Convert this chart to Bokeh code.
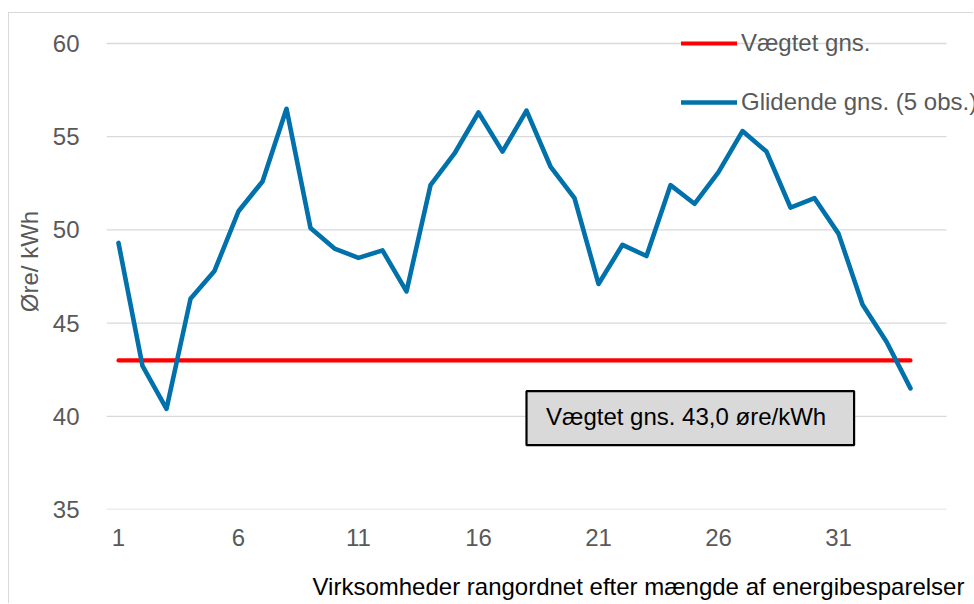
from bokeh.plotting import figure
from bokeh.models import (Range1d, FixedTicker, Legend, LegendItem, BoxAnnotation,
                          Label, Title, ColumnDataSource)
from bokeh.embed import file_html
from bokeh.resources import INLINE

# ---- data ----
companies = list(range(1, 35))
moving_avg = [49.3, 42.7, 40.4, 46.3, 47.8, 51.0, 52.6, 56.5, 50.1, 49.0,
              48.5, 48.9, 46.7, 52.4, 54.1, 56.3, 54.2, 56.4, 53.4, 51.7,
              47.1, 49.2, 48.6, 52.4, 51.4, 53.1, 55.3, 54.2, 51.2, 51.7,
              49.8, 46.0, 44.0, 41.5]
weighted_avg = 43.0
x_ticks = [1, 6, 11, 16, 21, 26, 31]
y_ticks = [35, 40, 45, 50, 55, 60]
legend_labels = ["Vægtet gns.", "Glidende gns. (5 obs.)"]
note_text = "Vægtet gns. 43,0 øre/kWh"
x_title = "Virksomheder rangordnet efter mængde af energibesparelser"
y_title = "Øre/ kWh"

FONT = "Liberation Sans"
GREY = "#595959"
BLUE = "#0171AB"
RED = "#FF0000"

# category axis spans 0.5..35.5 (35 slots); plot area extended right/top for legend
X0, X1 = 0.5, 35.5
src_avg = ColumnDataSource(dict(x=companies, y=[weighted_avg for _ in companies]))
src_mov = ColumnDataSource(dict(x=companies, y=moving_avg))
src_grid = ColumnDataSource(dict(y=y_ticks, x0=[X0] * len(y_ticks), x1=[X1] * len(y_ticks)))

p = figure(width=965, height=591, output_backend="svg", toolbar_location=None,
           x_range=Range1d(X0, 36.6667), y_range=Range1d(35, 61.6094),
           min_border_left=97, min_border_right=0, min_border_top=0,
           min_border_bottom=95)
p.margin = (13, 0, 0, 9)
p.styles = {"box-shadow": "-1px -1px 0 0 #d9d9d9"}
p.outline_line_color = None
p.background_fill_color = "white"
p.border_fill_color = "white"
p.grid.grid_line_color = None

p.segment(x0="x0", x1="x1", y0="y", y1="y", source=src_grid,
          line_color="#d9d9d9", line_width=1.3)
r_red = p.line("x", "y", source=src_avg, line_color=RED, line_width=4.2,
               line_cap="round")
r_blue = p.line("x", "y", source=src_mov, line_color=BLUE, line_width=4.6,
                line_cap="round", line_join="round")

# axes
for ax in (p.xaxis[0], p.yaxis[0]):
    ax.axis_line_color = None
    ax.major_tick_line_color = None
    ax.minor_tick_line_color = None
    ax.major_label_text_font = FONT
    ax.major_label_text_font_size = "24px"
    ax.major_label_text_color = GREY

p.xaxis.ticker = FixedTicker(ticks=x_ticks)
p.yaxis.ticker = FixedTicker(ticks=y_ticks)
p.xaxis.major_label_standoff = 13
p.yaxis.major_label_standoff = 21

p.yaxis.axis_label = y_title
p.yaxis.axis_label_text_font = FONT
p.yaxis.axis_label_text_font_size = "24px"
p.yaxis.axis_label_text_font_style = "normal"
p.yaxis.axis_label_text_color = GREY
p.yaxis.axis_label_standoff = 7

# x title, shifted right as in the reference (spacer panel above it)
spacer = Title(text=" ", text_font_size="1px", standoff=19)
p.add_layout(spacer, "below")
t = Title(text=x_title, align="left", offset=206, text_font=FONT,
          text_font_size="24px", text_font_style="normal", text_color="black",
          standoff=0)
p.add_layout(t, "below")

# annotation box
box = BoxAnnotation(left=18.0, right=31.65, bottom=38.45, top=41.35,
                    fill_color="#d9d9d9", fill_alpha=1.0,
                    line_color="black", line_alpha=1.0, line_width=2.2)
p.add_layout(box)
lbl = Label(x=24.65, y=40.0, text=note_text, text_align="center",
            text_baseline="middle", text_font=FONT, text_font_size="24px",
            text_color="black")
p.add_layout(lbl)

legend = Legend(items=[LegendItem(label=legend_labels[0], renderers=[r_red]),
                       LegendItem(label=legend_labels[1], renderers=[r_blue])],
                location=(575, 393), orientation="vertical",
                glyph_width=56, glyph_height=26, label_height=26, spacing=31,
                padding=0, margin=0, label_standoff=4,
                border_line_color=None, background_fill_alpha=0,
                label_text_font=FONT, label_text_font_size="24px",
                label_text_color=GREY)
p.add_layout(legend)

open("out.html", "w").write(file_html(p, INLINE))
